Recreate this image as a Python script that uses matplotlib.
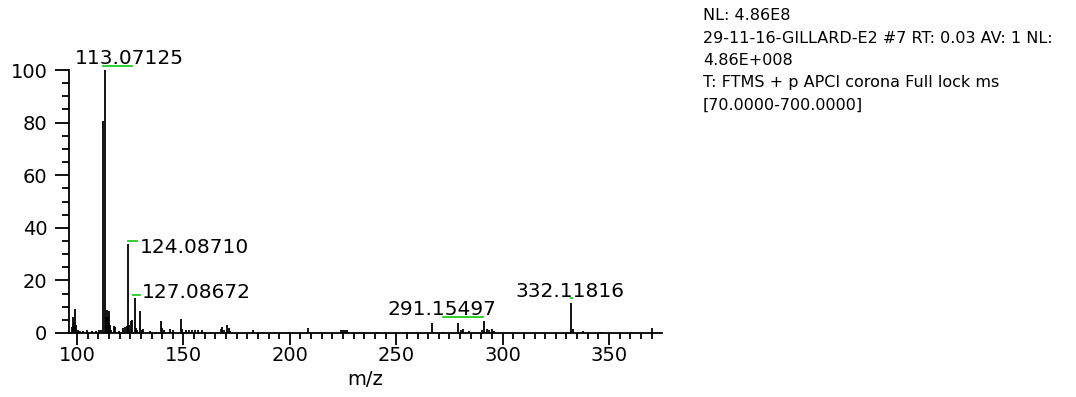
import matplotlib
matplotlib.use("Agg")
import matplotlib.pyplot as plt
from matplotlib.ticker import MultipleLocator

plt.rcParams['font.family'] = ['DejaVu Sans']

# centroid peaks: m/z and relative abundance (%)
mz = [97.5, 98.0, 98.4, 99.0, 99.6, 100.2, 101.5, 103.0, 104.8, 107.0,
      109.0, 110.5, 111.4, 112.0, 113.07125, 113.5, 114.0, 114.5, 115.0, 115.5,
      116.0, 117.2, 118.0, 119.5, 121.5, 122.5, 123.3, 124.08710, 124.6, 125.2,
      125.8, 127.08672, 127.6, 128.3, 129.6, 130.3, 131.0, 134.3, 137.0, 139.5,
      140.0, 141.0, 143.7, 145.0, 148.7, 149.5, 151.0, 152.5, 154.0, 155.5,
      157.0, 158.5, 160.0, 163.0, 167.5, 168.2, 169.2, 170.3, 171.2, 172.0,
      182.8, 187.0, 193.0, 199.0, 208.7, 216.0, 224.0, 225.0, 226.0, 227.0,
      233.0, 241.0, 255.0, 266.7, 272.0, 279.2, 280.5, 281.4, 284.0, 290.5,
      291.15497, 292.5, 293.5, 295.0, 296.0, 332.11816, 333.1, 337.8, 346.0, 370.0]
intensity = [2.4, 6.2, 4.0, 9.1, 3.0, 1.0, 0.8, 0.8, 1.3, 0.6,
             0.8, 1.0, 1.2, 80.6, 100.0, 6.0, 8.9, 6.0, 8.3, 3.0,
             1.2, 2.5, 2.4, 0.8, 1.9, 2.3, 2.8, 34.0, 3.0, 4.5,
             4.8, 13.3, 2.0, 1.2, 8.2, 1.2, 1.5, 0.9, 0.5, 4.4,
             2.0, 1.3, 1.5, 1.2, 5.3, 1.5, 1.2, 1.2, 1.0, 1.2,
             1.2, 1.0, 0.5, 0.5, 1.5, 2.3, 1.2, 3.2, 1.8, 0.8,
             1.2, 0.5, 0.4, 0.4, 1.8, 0.4, 1.2, 1.3, 1.3, 1.0,
             0.4, 0.5, 0.4, 3.7, 0.5, 3.9, 1.2, 1.5, 0.8, 1.2,
             4.7, 1.5, 1.2, 1.5, 0.8, 11.5, 1.5, 0.8, 0.3, 2.0]

# labelled peaks: text position (left, baseline) and green marker span
label_mz = [113.07125, 124.08710, 127.08672, 291.15497, 332.11816]
label_x = [99.1, 129.6, 130.5, 246.1, 305.8]
label_y = [102.3, 30.4, 13.3, 6.8, 13.7]
mark_spans = [[(112.2, 125.8)], [(124.0, 128.2)], [(126.3, 129.6)],
              [(272.0, 283.3), (283.7, 290.8)], [(332.0, 332.4)]]
mark_y = [101.6, 35.0, 14.4, 6.1, 13.3]

header = ["NL: 4.86E8",
          "29-11-16-GILLARD-E2 #7 RT: 0.03 AV: 1 NL:",
          "4.86E+008",
          "T: FTMS + p APCI corona Full lock ms",
          "[70.0000-700.0000]"]

fig = plt.figure(figsize=(10.76, 3.97), dpi=100)
ax = fig.add_axes([69 / 1076, 1 - 333 / 397, (662 - 69) / 1076, (333 - 70) / 397])

ax.vlines(mz, 0, intensity, color='black', lw=1.3)

for m, lx, ly, spans, my in zip(label_mz, label_x, label_y, mark_spans, mark_y):
    ax.text(lx, ly, f"{m:.5f}", fontsize=14.5, ha='left', va='baseline', clip_on=False)
    for a, b in spans:
        ax.plot([a, b], [my, my], color='#22cc22', lw=1.3, clip_on=False)

ax.set_xlim(96.2, 374.9)
ax.set_ylim(0, 100)
ax.set_xticks([100, 150, 200, 250, 300, 350])
ax.set_yticks([0, 20, 40, 60, 80, 100])
ax.xaxis.set_minor_locator(MultipleLocator(5))
ax.yaxis.set_minor_locator(MultipleLocator(5))
ax.spines['top'].set_visible(False)
ax.spines['right'].set_visible(False)
for s in ('left', 'bottom'):
    ax.spines[s].set_linewidth(1.3)
ax.tick_params(axis='y', which='major', length=10, width=1.3, labelsize=14, pad=5.5)
ax.tick_params(axis='y', which='minor', length=5, width=1.3)
ax.tick_params(axis='x', which='major', length=8.6, width=1.3, labelsize=14, pad=0.5)
ax.tick_params(axis='x', which='minor', length=4.3, width=1.3)
ax.set_xlabel('m/z', fontsize=14, labelpad=4)

for i, line in enumerate(header):
    fig.text(703 / 1076, 1 - (16 + 22.2 * i) / 397, line, fontsize=11.5,
             ha='left', va='center')

fig.savefig('out.png', dpi=100)
